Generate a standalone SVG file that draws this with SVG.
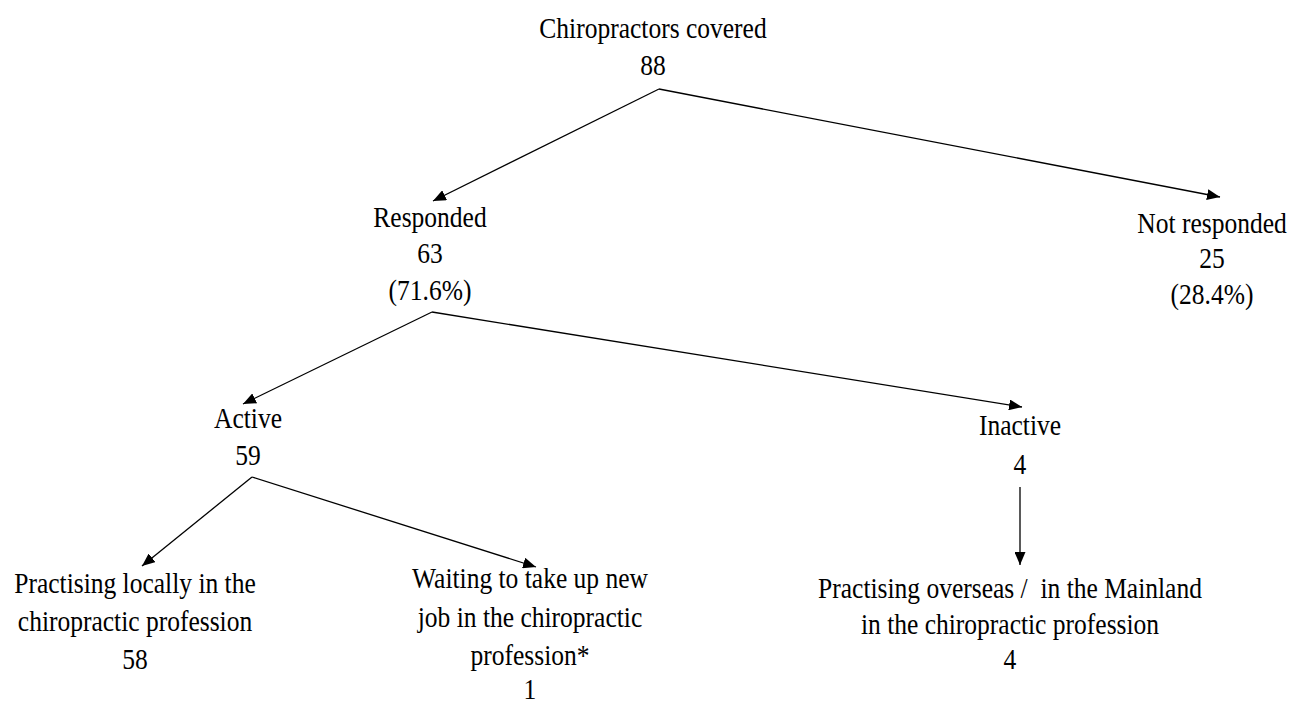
<svg xmlns="http://www.w3.org/2000/svg" width="1293" height="704" viewBox="0 0 1293 704">
<style>
text{font-family:'Liberation Serif','Times New Roman',Times,'DejaVu Serif',serif;font-size:29px;fill:#000;text-anchor:middle}
.c{stroke:#000;stroke-width:1.3;fill:none;marker-end:url(#ah)}
</style>
<defs>
<marker id="ah" markerUnits="userSpaceOnUse" markerWidth="13" markerHeight="11" refX="13" refY="5.5" orient="auto" viewBox="0 0 13 11">
<path d="M0,0 L13,5.5 L0,11 z" fill="#000"/>
</marker>
</defs>
<rect width="1293" height="704" fill="#fff"/>
<g id="connectors">
<line class="c" x1="659" y1="89" x2="433" y2="201"/>
<line class="c" x1="659" y1="89" x2="1220" y2="197"/>
<line class="c" x1="432" y1="312" x2="243" y2="404"/>
<line class="c" x1="432" y1="312" x2="1022" y2="407"/>
<line class="c" x1="252" y1="477" x2="142" y2="566"/>
<line class="c" x1="252" y1="477" x2="536" y2="567"/>
<line class="c" x1="1020" y1="487" x2="1020" y2="565"/>
</g>
<g id="covered"><text font-family="Liberation Serif, serif" transform="translate(653,0) scale(0.88,1)"><tspan x="0" y="38">Chiropractors covered</tspan><tspan x="0" y="75">88</tspan></text></g>
<g id="responded"><text font-family="Liberation Serif, serif" transform="translate(430,0) scale(0.88,1)"><tspan x="0" y="227">Responded</tspan><tspan x="0" y="263">63</tspan><tspan x="0" y="300">(71.6%)</tspan></text></g>
<g id="notresponded"><text font-family="Liberation Serif, serif" transform="translate(1212,0) scale(0.88,1)"><tspan x="0" y="233">Not responded</tspan><tspan x="0" y="268">25</tspan><tspan x="0" y="304">(28.4%)</tspan></text></g>
<g id="active"><text font-family="Liberation Serif, serif" transform="translate(248,0) scale(0.88,1)"><tspan x="0" y="428">Active</tspan><tspan x="0" y="465">59</tspan></text></g>
<g id="inactive"><text font-family="Liberation Serif, serif" transform="translate(1020,0) scale(0.88,1)"><tspan x="0" y="435">Inactive</tspan><tspan x="0" y="474">4</tspan></text></g>
<g id="local"><text font-family="Liberation Serif, serif" transform="translate(135,0) scale(0.88,1)"><tspan x="0" y="593">Practising locally in the</tspan><tspan x="0" y="631">chiropractic profession</tspan><tspan x="0" y="669">58</tspan></text></g>
<g id="waiting"><text font-family="Liberation Serif, serif" transform="translate(530,0) scale(0.88,1)"><tspan x="0" y="588">Waiting to take up new</tspan><tspan x="0" y="627">job in the chiropractic</tspan><tspan x="0" y="665">profession*</tspan><tspan x="0" y="699">1</tspan></text></g>
<g id="overseas"><text font-family="Liberation Serif, serif" transform="translate(1010,0) scale(0.88,1)"><tspan x="0" y="598">Practising overseas /&#160; in the Mainland</tspan><tspan x="0" y="634">in the chiropractic profession</tspan><tspan x="0" y="669">4</tspan></text></g>
</svg>
